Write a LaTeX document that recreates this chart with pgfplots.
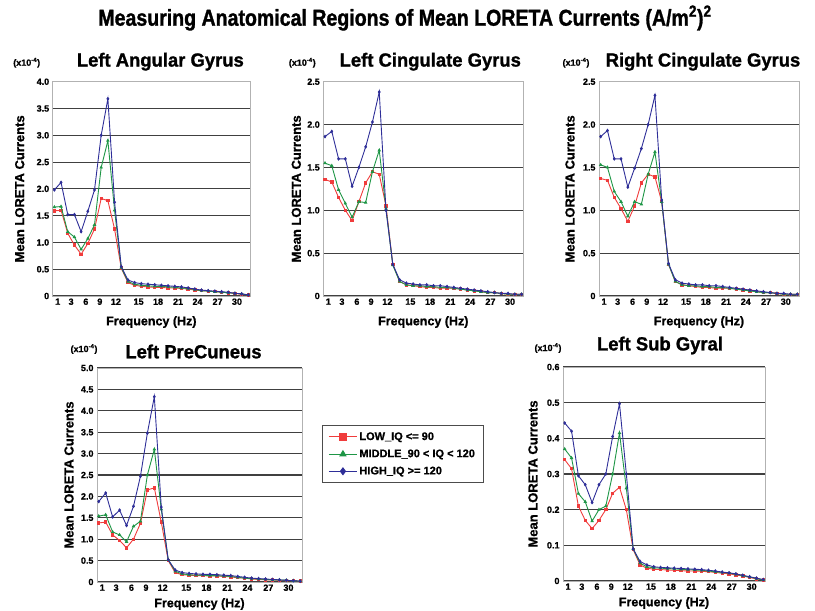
\documentclass[border=0pt]{standalone}
\usepackage{fontspec}
\setmainfont{Liberation Sans}
\newfontfamily\condfont{Liberation Sans}[FakeStretch=0.85,FakeBold=1.2]
\newfontfamily\titlefont{Liberation Sans}[FakeStretch=0.97,FakeBold=1.2]
\newfontfamily\heavyfont{Liberation Sans}[FakeBold=1.0]
\usepackage{pgfplots}
\pgfplotsset{compat=1.18}
\usepackage{pgfplotstable}

\definecolor{lowc}{HTML}{F03C3C}
\definecolor{midc}{HTML}{1E9646}
\definecolor{highc}{HTML}{2E2E98}

\pgfplotstableread{
x low mid high
1 1.59 1.66 1.98
2 1.60 1.67 2.12
3 1.17 1.20 1.52
4 0.95 1.10 1.52
5 0.78 0.87 1.20
6 0.98 1.07 1.58
7 1.25 1.33 1.98
8 1.82 2.40 3.00
9 1.78 2.90 3.68
10 1.25 1.60 1.75
11 0.52 0.53 0.55
12 0.25 0.27 0.30
13 0.20 0.22 0.25
14 0.18 0.20 0.23
15 0.17 0.19 0.22
16 0.16 0.18 0.21
17 0.16 0.18 0.20
18 0.15 0.17 0.19
19 0.15 0.16 0.18
20 0.14 0.15 0.17
21 0.13 0.14 0.15
22 0.11 0.12 0.13
23 0.10 0.10 0.11
24 0.09 0.09 0.10
25 0.08 0.08 0.09
26 0.07 0.07 0.08
27 0.06 0.06 0.07
28 0.05 0.05 0.05
29 0.03 0.04 0.04
30 0.02 0.02 0.02
}\angular

\pgfplotstableread{
x low mid high
1 1.36 1.55 1.86
2 1.33 1.52 1.92
3 1.15 1.24 1.60
4 1.00 1.08 1.60
5 0.88 0.92 1.28
6 1.10 1.10 1.50
7 1.32 1.09 1.74
8 1.45 1.45 2.03
9 1.42 1.70 2.38
10 1.05 1.02 1.00
11 0.37 0.36 0.37
12 0.17 0.17 0.19
13 0.13 0.13 0.15
14 0.12 0.12 0.14
15 0.11 0.12 0.13
16 0.10 0.11 0.13
17 0.10 0.11 0.12
18 0.09 0.10 0.12
19 0.09 0.10 0.11
20 0.09 0.09 0.10
21 0.08 0.08 0.09
22 0.07 0.07 0.08
23 0.06 0.06 0.07
24 0.05 0.05 0.06
25 0.04 0.04 0.05
26 0.04 0.04 0.04
27 0.03 0.03 0.03
28 0.02 0.02 0.03
29 0.02 0.02 0.02
30 0.02 0.02 0.02
}\lcing

\pgfplotstableread{
x low mid high
1 1.37 1.53 1.86
2 1.35 1.50 1.93
3 1.15 1.22 1.60
4 1.02 1.10 1.60
5 0.87 0.93 1.27
6 1.05 1.10 1.49
7 1.32 1.07 1.72
8 1.42 1.42 2.00
9 1.39 1.68 2.34
10 1.10 1.10 1.12
11 0.37 0.37 0.38
12 0.17 0.17 0.19
13 0.13 0.13 0.15
14 0.12 0.12 0.14
15 0.11 0.12 0.13
16 0.10 0.11 0.13
17 0.10 0.11 0.12
18 0.09 0.10 0.12
19 0.09 0.10 0.11
20 0.09 0.09 0.10
21 0.08 0.08 0.09
22 0.07 0.07 0.08
23 0.06 0.06 0.07
24 0.05 0.05 0.06
25 0.04 0.04 0.05
26 0.04 0.04 0.04
27 0.03 0.03 0.03
28 0.02 0.02 0.03
29 0.02 0.02 0.02
30 0.02 0.02 0.02
}\rcing

\pgfplotstableread{
x low mid high
1 1.38 1.54 1.88
2 1.40 1.57 2.08
3 1.10 1.17 1.52
4 0.97 1.10 1.68
5 0.80 0.94 1.32
6 1.00 1.30 1.77
7 1.37 1.42 2.47
8 2.15 2.50 3.48
9 2.20 3.10 4.33
10 1.40 1.70 1.75
11 0.50 0.52 0.52
12 0.22 0.25 0.28
13 0.17 0.19 0.22
14 0.16 0.17 0.20
15 0.15 0.16 0.19
16 0.15 0.16 0.18
17 0.14 0.15 0.18
18 0.14 0.15 0.17
19 0.13 0.14 0.16
20 0.12 0.13 0.15
21 0.10 0.11 0.13
22 0.09 0.09 0.11
23 0.07 0.08 0.09
24 0.06 0.07 0.08
25 0.05 0.06 0.07
26 0.05 0.05 0.06
27 0.04 0.05 0.05
28 0.03 0.04 0.04
29 0.03 0.03 0.03
30 0.02 0.02 0.02
}\precun

\pgfplotstableread{
x low mid high
1 0.340 0.370 0.443
2 0.315 0.345 0.420
3 0.210 0.245 0.295
4 0.170 0.222 0.270
5 0.147 0.168 0.220
6 0.170 0.200 0.270
7 0.200 0.210 0.300
8 0.246 0.300 0.405
9 0.263 0.415 0.497
10 0.200 0.260 0.300
11 0.088 0.090 0.090
12 0.045 0.050 0.055
13 0.036 0.040 0.045
14 0.033 0.037 0.040
15 0.032 0.036 0.038
16 0.031 0.035 0.037
17 0.030 0.034 0.036
18 0.029 0.033 0.035
19 0.028 0.032 0.034
20 0.028 0.031 0.033
21 0.027 0.030 0.032
22 0.026 0.028 0.030
23 0.024 0.026 0.028
24 0.022 0.024 0.025
25 0.020 0.022 0.023
26 0.017 0.019 0.020
27 0.014 0.015 0.016
28 0.010 0.011 0.012
29 0.006 0.007 0.008
30 0.003 0.003 0.004
}\subgyral

\pgfplotsset{
  panel/.style={
    scale only axis,
    clip mode=individual,
    anchor=north west,
    xmin=0.75, xmax=30.25,
    ymin=0,
    xtick={1.5,3.5,5.7,7.8,10.2,13.6,16.5,19.5,22.4,25.4,28.3},
    xticklabels={1,3,6,9,12,15,18,21,24,27,30},
    major tick length=0,
    ymajorgrids,
    grid style={black!75, line width=1.1pt},
    axis line style={black!30, line width=1pt},
    tick label style={font=\heavyfont\bfseries\fontsize{9}{10}\selectfont},
    xticklabel style={yshift=1pt},
    /pgf/number format/assume math mode=true,
    xlabel={Frequency (Hz)},
    ylabel={Mean LORETA Currents},
    xlabel style={font=\heavyfont\bfseries\fontsize{12.5}{13}\selectfont, at={(axis description cs:0.5,0)}, anchor=center, yshift=-26pt},
    ylabel style={font=\heavyfont\bfseries\fontsize{13}{14}\selectfont, anchor=center, rotate=0},
    ylabel shift/.style={ylabel style={at={([xshift=##1]axis description cs:0,0.5)}}},
    ylabel shift=-29pt,
    title style={font=\titlefont\bfseries\fontsize{19}{20}\selectfont, at={(axis description cs:0.5,1)}, anchor=center, yshift=14pt},
    every axis plot/.append style={line width=0.9pt, mark size=1.2pt},
    lowp/.style={lowc, mark=square*, mark options={solid, fill=lowc}},
    midp/.style={midc, mark=triangle*, mark options={solid, fill=midc}},
    highp/.style={highc, mark=diamond*, mark options={solid, fill=highc}},
  },
}
\newcommand{\scalelabel}[1]{\node[font=\heavyfont\bfseries\fontsize{9}{10}\selectfont] at ([xshift=#1,yshift=19pt]rel axis cs:0,1) {(x10\textsuperscript{-4})};}

\begin{document}
\begin{tikzpicture}
\path[use as bounding box] (0pt,0pt) rectangle (815pt,-611pt);
\node[font=\condfont\bfseries\fontsize{23}{25}\selectfont] at (405pt,-18pt) {Measuring Anatomical Regions of Mean LORETA Currents (A/m\textsuperscript{2})\textsuperscript{2}};

% Left Angular Gyrus
\begin{axis}[panel, at={(52.7pt,-81.7pt)}, width=197.3pt, height=214.3pt,
  ymax=4, ytick={0,0.5,...,4}, yticklabels={0,0.5,1.0,1.5,2.0,2.5,3.0,3.5,4.0},
  title={Left Angular Gyrus}, title style={xshift=9pt},
  ylabel shift=-33pt]
\addplot[lowp] table[x=x,y=low]{\angular};
\addplot[midp] table[x=x,y=mid]{\angular};
\addplot[highp] table[x=x,y=high]{\angular};
\scalelabel{-26pt}
\end{axis}

% Left Cingulate Gyrus
\begin{axis}[panel, at={(323.3pt,-81.7pt)}, width=200pt, height=214.3pt,
  ymax=2.5, ytick={0,0.5,...,2.5}, yticklabels={0,0.5,1.0,1.5,2.0,2.5},
  title={Left Cingulate Gyrus}, title style={xshift=7pt},
  ylabel shift=-27pt]
\addplot[lowp] table[x=x,y=low]{\lcing};
\addplot[midp] table[x=x,y=mid]{\lcing};
\addplot[highp] table[x=x,y=high]{\lcing};
\scalelabel{-21pt}
\end{axis}

% Right Cingulate Gyrus
\begin{axis}[panel, at={(599pt,-81.7pt)}, width=200pt, height=214.3pt,
  ymax=2.5, ytick={0,0.5,...,2.5}, yticklabels={0,0.5,1.0,1.5,2.0,2.5},
  title={Right Cingulate Gyrus}, title style={xshift=4pt}]
\addplot[lowp] table[x=x,y=low]{\rcing};
\addplot[midp] table[x=x,y=mid]{\rcing};
\addplot[highp] table[x=x,y=high]{\rcing};
\scalelabel{-23pt}
\end{axis}

% Left PreCuneus
\begin{axis}[panel, at={(97pt,-368pt)}, width=205pt, height=214pt,
  ymax=5, ytick={0,0.5,...,5}, yticklabels={0,0.5,1.0,1.5,2.0,2.5,3.0,3.5,4.0,4.5,5.0},
  title={Left PreCuneus}, title style={xshift=-6pt, yshift=-3.5pt},
  ylabel shift=-28pt,
  xlabel style={yshift=4pt},
  legend style={at={(axis description cs:1.098,0.734)}, anchor=north west,
    draw=black!70, line width=0.8pt, font=\heavyfont\bfseries\fontsize{11}{12.5}\selectfont,
    row sep=4pt, inner xsep=6pt, inner ysep=5pt},
  legend cell align=left,
  legend image code/.code={\draw[mark repeat=2,mark phase=2] plot coordinates {(0pt,0pt) (14pt,0pt) (28pt,0pt)};},
  legend image post style={mark size=3.4pt}]
\addplot[lowp] table[x=x,y=low]{\precun};
\addlegendentry{LOW\_IQ <= 90}
\addplot[midp] table[x=x,y=mid]{\precun};
\addlegendentry{MIDDLE\_90 < IQ < 120}
\addplot[highp] table[x=x,y=high]{\precun};
\addlegendentry{HIGH\_IQ >= 120}
\scalelabel{-13pt}
\end{axis}

% Left Sub Gyral
\begin{axis}[panel, at={(563pt,-367pt)}, width=202pt, height=214pt,
  ymax=0.6, ytick={0,0.1,...,0.6}, yticklabels={0,0.1,0.2,0.3,0.4,0.5,0.6},
  title={Left Sub Gyral}, title style={xshift=-4pt, yshift=1.5pt},
  ylabel shift=-30pt,
  xlabel style={yshift=4pt}]
\addplot[lowp] table[x=x,y=low]{\subgyral};
\addplot[midp] table[x=x,y=mid]{\subgyral};
\addplot[highp] table[x=x,y=high]{\subgyral};
\scalelabel{-15pt}
\end{axis}
\end{tikzpicture}
\end{document}
